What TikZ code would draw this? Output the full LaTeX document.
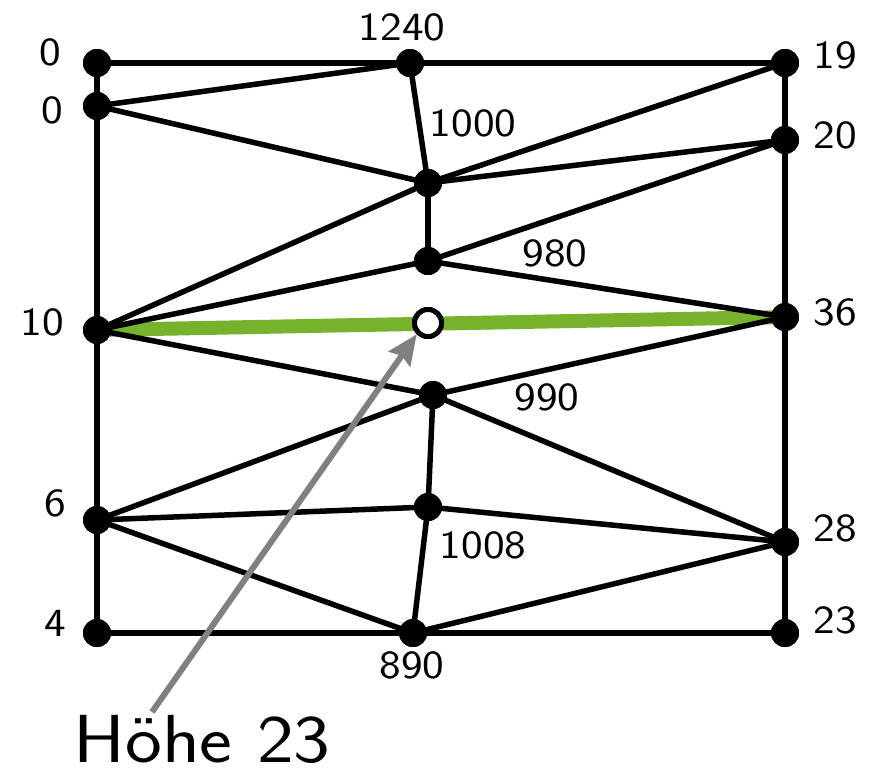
\documentclass[tikz,border=0pt]{standalone}
\usetikzlibrary{arrows.meta}
\renewcommand{\familydefault}{\sfdefault}
\definecolor{gruen}{RGB}{118,178,43}
\newcommand{\widetext}[2]{\scalebox{1.15}[1]{\fontsize{#1}{#1}\selectfont #2}}
\tikzstyle{vertex}=[circle,fill=black,minimum size=28pt,inner sep=0pt]
\tikzstyle{hole vertex}=[circle,draw=black,line width=5pt,fill=white,minimum size=27pt,inner sep=0pt]
\tikzstyle{edge}=[draw,line width=5.5pt]
\tikzstyle{height}=[inner sep=0pt]
\tikzstyle{pointer}=[draw,line width=6pt,gray,-{Stealth[length=30pt,width=26pt,inset=4pt]}]
\begin{document}
\begin{tikzpicture}[x=1pt,y=-1pt]
    \useasboundingbox (0,0) rectangle (873,772);
    % triangulation vertices
    \foreach \pos/\name in {{(97,63)/tl}, {(97,106)/la}, {(410,63)/t}, {(785,63)/tr},
        {(785,140)/ra}, {(428,183)/ma}, {(428,261)/mb}, {(97,330)/lb}, {(785,317)/rb},
        {(433,395)/mc}, {(97,520)/lc}, {(428,507)/md}, {(785,542)/rc},
        {(97,633)/bl}, {(413,633)/b}, {(785,633)/br}}
    \node[vertex] (\name) at \pos {};
    % heights
    \foreach \pos/\name/\txt in {{(50,52)/htl/0}, {(52,110)/hla/0}, {(402,27)/ht/1240},
        {(835,55)/htr/19}, {(835,135)/hra/20}, {(473,123)/hma/1000}, {(555,253)/hmb/980},
        {(42,322)/hlb/10}, {(835,312)/hrb/36}, {(547,397)/hmc/990}, {(55,503)/hlc/6},
        {(483,545)/hmd/1008}, {(835,528)/hrc/28}, {(55,623)/hbl/4}, {(412,665)/hb/890},
        {(835,620)/hbr/23}}
    \node[height] (\name) at \pos {\widetext{40}{\txt}};
    % query line and point
    \path[draw,line width=14pt,gruen] (lb.center) -- (rb.center);
    \node[hole vertex] (q) at (428,323) {};
    % edges
    \foreach \source/\dest in {tl/t, t/tr, tl/la, la/lb, lb/lc, lc/bl, tr/ra, ra/rb,
        rb/rc, rc/br, bl/b, b/br, la/t, la/ma, t/ma, ma/tr, ma/ra, ma/lb, ma/mb,
        mb/ra, mb/lb, mb/rb, lb/mc, mc/rb, mc/lc, mc/md, mc/rc, lc/md, md/rc,
        lc/b, md/b, b/rc}
    \path[edge] (\source.center) -- (\dest.center);
    \foreach \name in {tl,la,t,tr,ra,ma,mb,lb,rb,mc,lc,md,rc,bl,b,br}
    \node[vertex] at (\name) {};
    \node[hole vertex] at (q) {};
    % annotation
    \node[inner sep=0pt] (label) at (202,739) {\widetext{68}{Höhe 23}};
    \coordinate (tail) at (152,712);
    \path[pointer] (tail) -- (q.south west);
\end{tikzpicture}
\end{document}
